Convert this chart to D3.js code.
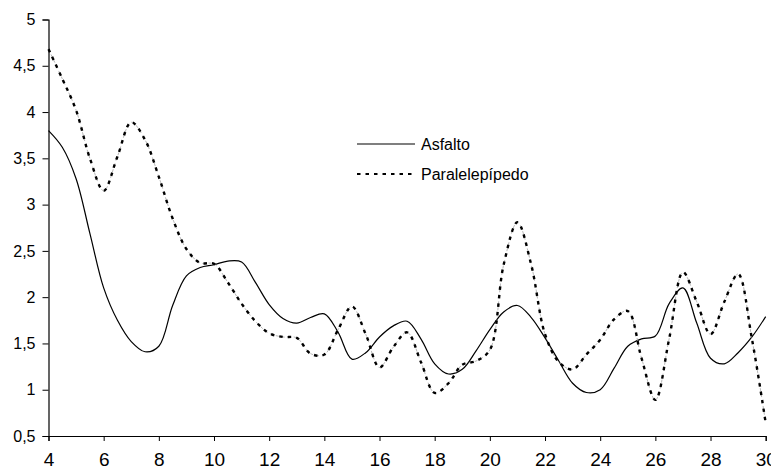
<!DOCTYPE html>
<html>
<head>
<meta charset="utf-8">
<script src="https://cdn.jsdelivr.net/npm/d3@7"></script>
<style>
  body { margin: 0; background: #fff; }
  text { font-family: "Liberation Sans", Arial, sans-serif; fill: #000; }
</style>
</head>
<body>
<div id="chart"></div>
<script>
var width = 771;
var height = 470;

// x positions (every half unit)
var xValues = [4, 4.5, 5, 5.5, 6, 6.5, 7, 7.5, 8, 8.5, 9, 9.5, 10, 10.5, 11, 11.5, 12, 12.5,
               13, 13.5, 14, 14.5, 15, 15.5, 16, 16.5, 17, 17.5, 18, 18.5, 19, 19.5, 20, 20.5,
               21, 21.5, 22, 22.5, 23, 23.5, 24, 24.5, 25, 25.5, 26, 26.5, 27, 27.5, 28, 28.5,
               29, 29.5, 30];

var asfalto = [3.80, 3.62, 3.28, 2.69, 2.10, 1.75, 1.52, 1.41, 1.47, 1.91, 2.23, 2.32, 2.35, 2.39,
               2.38, 2.16, 1.92, 1.77, 1.72, 1.78, 1.82, 1.62, 1.33, 1.40, 1.57, 1.69, 1.74, 1.55,
               1.28, 1.17, 1.22, 1.42, 1.65, 1.84, 1.91, 1.78, 1.56, 1.31, 1.07, 0.97, 1.00, 1.23,
               1.47, 1.55, 1.58, 1.93, 2.10, 1.72, 1.34, 1.28, 1.40, 1.57, 1.79];

var paralelepipedo = [4.68, 4.36, 4.02, 3.50, 3.15, 3.52, 3.89, 3.70, 3.30, 2.85, 2.52, 2.37, 2.36,
                      2.16, 1.93, 1.74, 1.61, 1.57, 1.56, 1.39, 1.38, 1.65, 1.90, 1.60, 1.24, 1.46,
                      1.62, 1.30, 0.965, 1.07, 1.27, 1.31, 1.43, 2.35, 2.81, 2.35, 1.60, 1.30, 1.22,
                      1.38, 1.54, 1.76, 1.85, 1.34, 0.89, 1.55, 2.27, 1.95, 1.60, 1.95, 2.25, 1.55, 0.64];

var xTicks = [4, 6, 8, 10, 12, 14, 16, 18, 20, 22, 24, 26, 28, 30];
var yTicks = [0.5, 1, 1.5, 2, 2.5, 3, 3.5, 4, 4.5, 5];
var seriesNames = ["Asfalto", "Paralelepípedo"];

var margin = {top: 19.5, right: 5.3, bottom: 34, left: 48.5};

var svg = d3.select("#chart")
    .append("svg")
    .attr("width", width)
    .attr("height", height);

var x = d3.scaleLinear().domain([4, 30]).range([margin.left, width - margin.right]);
var y = d3.scaleLinear().domain([0.5, 5]).range([height - margin.bottom, margin.top]);

var locale = d3.formatLocale({decimal: ",", thousands: ".", grouping: [3], currency: ["", ""]});
var fmt = locale.format("~g");

// axes
var xAxis = svg.append("g")
    .attr("transform", "translate(0," + (height - margin.bottom) + ")")
    .call(d3.axisBottom(x).tickValues(xTicks).tickSize(5).tickPadding(4).tickFormat(fmt));
xAxis.select(".domain").attr("stroke", "#000").attr("stroke-width", 1.2);
xAxis.selectAll(".tick line").attr("stroke", "#000");
xAxis.selectAll(".tick text")
    .attr("font-size", "19px")
    .attr("y", 30)
    .attr("dy", null);

var yAxis = svg.append("g")
    .attr("transform", "translate(" + margin.left + ",0)")
    .call(d3.axisLeft(y).tickValues(yTicks).tickSize(6).tickPadding(7).tickFormat(fmt));
yAxis.select(".domain").attr("stroke", "#000").attr("stroke-width", 1.2);
yAxis.selectAll(".tick line").attr("stroke", "#000");
yAxis.selectAll(".tick text")
    .attr("font-size", "16px");
svg.selectAll(".domain").attr("d", function(){ return d3.select(this).attr("d").replace(/M[^H]*H/, function(m){ return m; }); });

var line = d3.line()
    .x(function(d){ return x(d[0]); })
    .y(function(d){ return y(d[1]); })
    .curve(d3.curveCatmullRom.alpha(0.5));

var asfaltoData = xValues.map(function(v, i){ return [v, asfalto[i]]; });
var paraData = xValues.map(function(v, i){ return [v, paralelepipedo[i]]; });

svg.append("path")
    .datum(asfaltoData)
    .attr("fill", "none")
    .attr("stroke", "#000")
    .attr("stroke-width", 1.2)
    .attr("d", line);

// thin grey trace under the dotted line
svg.append("path")
    .datum(paraData)
    .attr("fill", "none")
    .attr("stroke", "#999")
    .attr("stroke-width", 0.7)
    .attr("stroke-dasharray", "3,3")
    .attr("d", line);

svg.append("path")
    .datum(paraData)
    .attr("fill", "none")
    .attr("stroke", "#000")
    .attr("stroke-width", 2.4)
    .attr("stroke-dasharray", "3.5,5")
    .attr("d", line);

// legend
var legend = svg.append("g").attr("id", "legend");
legend.append("line")
    .attr("x1", 357).attr("x2", 415).attr("y1", 144).attr("y2", 144)
    .attr("stroke", "#000").attr("stroke-width", 1.2);
legend.append("text")
    .attr("x", 421).attr("y", 149.5)
    .attr("font-size", "16px")
    .text(seriesNames[0]);
legend.append("line")
    .attr("x1", 357).attr("x2", 415).attr("y1", 174).attr("y2", 174)
    .attr("stroke", "#000").attr("stroke-width", 2.2)
    .attr("stroke-dasharray", "3.5,5");
legend.append("text")
    .attr("x", 421).attr("y", 179.5)
    .attr("font-size", "16px")
    .text(seriesNames[1]);
</script>
</body>
</html>
